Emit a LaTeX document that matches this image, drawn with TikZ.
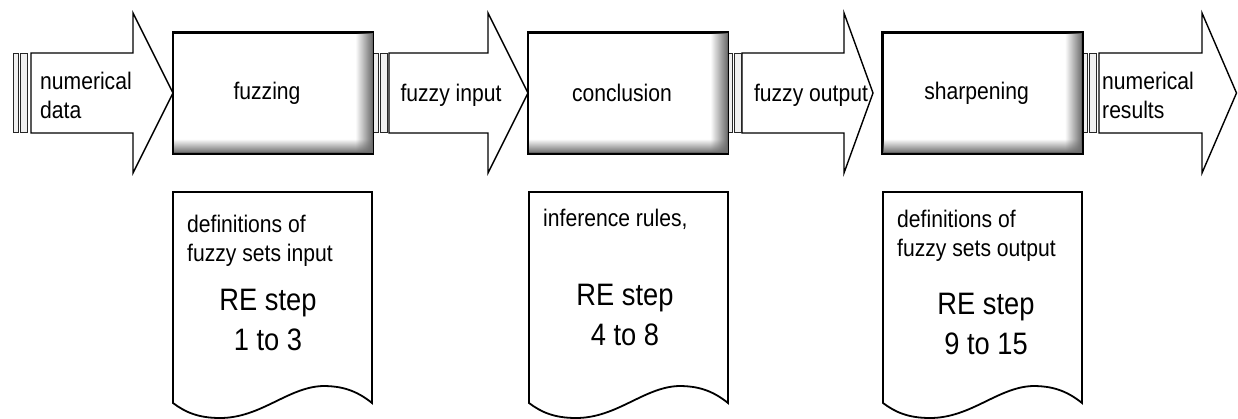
\documentclass[tikz,border=0pt]{standalone}
\usepackage{fontspec}
\setmainfont{Liberation Sans}[FakeStretch=0.88]
\usetikzlibrary{fadings}
\tikzfading[name=fadetoright, left color=transparent!100, right color=transparent!0]
\tikzfading[name=fadetobottom, top color=transparent!100, bottom color=transparent!0]
\tikzset{
  procbox/.style={draw=black, line width=1.8pt, fill=white, minimum width=199pt, minimum height=120pt, inner sep=0pt, font=\fontsize{24}{29}\selectfont},
  arrowshape/.style={draw=black, line width=1.4pt, fill=white, line join=miter},
  barbox/.style={draw=black!85, line width=1pt, fill=gray!12},
  doc/.style={draw=black, line width=1.8pt, fill=white},
  smalltxt/.style={inner sep=0pt, font=\fontsize{24}{29}\selectfont, align=left},
  bigtxt/.style={inner sep=0pt, font=\fontsize{31}{40}\selectfont, align=center},
  shadowfill/.style={fill=black!58},
}
\newcommand{\mybars}[1]{%
  \draw[barbox] (#1,53) rectangle ++(5,79);
  \draw[barbox] (#1+7,53) rectangle ++(7,79);}
\newcommand{\myarrow}[4]{% left, headstart, tip, name
  \draw[arrowshape] (#1,53) -- (#2,53) -- (#2,13) -- (#3,93) -- (#2,173) -- (#2,133) -- (#1,133) -- cycle;
  \coordinate (#4) at (#3,93);}
\newcommand{\myshadow}[1]{%
  \fill[shadowfill, path fading=fadetoright] ([shift={(-18pt,-1pt)}]#1.north east) rectangle ([shift={(-0.9pt,0.9pt)}]#1.south east);
  \fill[shadowfill, path fading=fadetobottom] ([shift={(1pt,15pt)}]#1.south west) rectangle ([shift={(-0.9pt,0.9pt)}]#1.south east);
  \draw[line width=1.8pt] (#1.north west) rectangle (#1.south east);}
\newcommand{\mydoc}[2]{% left x, name
  \draw[doc] (#1,192) -- (#1+199,192) -- (#1+199,403)
    .. controls (#1+183,390) and (#1+168,386) .. (#1+150,386)
    .. controls (#1+115,387) and (#1+88,418) .. (#1+47,418)
    .. controls (#1+25,418) and (#1+12,412) .. (#1,403) -- cycle;
  \coordinate (#2) at (#1+100,192);}
\begin{document}
\begin{tikzpicture}[x=1pt,y=-1pt]
\useasboundingbox (0,0) rectangle (1238,418);
% arrows
\myarrow{31}{133}{173}{a1tip}
\myarrow{389}{488}{528}{a2tip}
\myarrow{742}{844}{873}{a3tip}
\myarrow{1099}{1202}{1236.5}{a4tip}
\mybars{13}
\mybars{373}
\mybars{727}
\mybars{1082}
% process boxes
\node[procbox] (fuzz) at (273,93) {\hspace*{-12pt}fuzzing};
\myshadow{fuzz}
\node[procbox] (concl) at (628,93) {\hspace*{-12pt}conclusion};
\myshadow{concl}
\node[procbox] (sharp) at (982.5,93) {\hspace*{-12pt}sharpening};
\myshadow{sharp}
% arrow labels
\node[smalltxt, anchor=west] (t1) at (40,95) {numerical\\data};
\node[smalltxt] (t2) at (451,95) {fuzzy input};
\node[smalltxt] (t3) at (811,95) {fuzzy output};
\node[smalltxt, anchor=west] (t4) at (1102,95) {numerical\\results};
% documents
\mydoc{173}{d1}
\mydoc{529}{d2}
\mydoc{883}{d3}
\node[smalltxt, anchor=west] (d1a) at (187,241) {definitions of\\fuzzy sets input};
\node[bigtxt] (d1b) at (268,320) {RE step\\1 to 3};
\node[smalltxt, anchor=base west] (d2a) at (543,226) {inference rules,};
\node[bigtxt] (d2b) at (625,315) {RE step\\4 to 8};
\node[smalltxt, anchor=west] (d3a) at (897,236) {definitions of\\fuzzy sets output};
\node[bigtxt] (d3b) at (986,324) {RE step\\9 to 15};
\end{tikzpicture}
\end{document}
